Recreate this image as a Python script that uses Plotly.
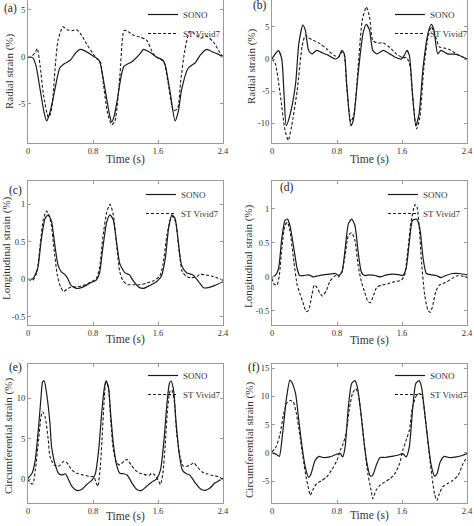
import plotly.graph_objects as go

# ---------------- data (time in s, strain in %) ----------------
a_sono_t = [0,0.06,0.1,0.15,0.2,0.23,0.26,0.3,0.33,0.39,0.45,0.52,0.58,0.64,0.7,0.76,0.82,0.87,0.89,0.95,1.0,1.03,1.06,1.1,1.18,1.28,1.38,1.42,1.5,1.58,1.66,1.69,1.75,1.81,1.85,1.89,1.97,2.06,2.12,2.2,2.28,2.34,2.4]
a_sono_v = [0,-0.1,-1.0,-3.5,-6.0,-6.8,-6.2,-4.8,-3.5,-1.2,-0.7,-0.35,0.35,0.8,0.65,0.35,0,-0.3,-0.7,-3.5,-6.0,-6.9,-6.3,-4.5,-1.0,-0.5,0.35,0.8,0.5,0,-0.35,-0.9,-3.8,-6.8,-5.8,-3.5,-1.2,-0.6,0.2,0.8,0.5,0.3,0]
a_vivid_t = [0,0.05,0.09,0.115,0.15,0.19,0.25,0.28,0.31,0.34,0.37,0.43,0.48,0.54,0.6,0.66,0.72,0.8,0.85,0.89,0.93,0.98,1.03,1.07,1.13,1.18,1.21,1.3,1.38,1.46,1.54,1.6,1.67,1.72,1.79,1.84,1.88,1.93,1.99,2.03,2.12,2.2,2.28,2.36,2.4]
a_vivid_v = [0,0.1,0.5,0.9,-1.0,-4.0,-6.4,-6.0,-3.9,-0.5,1.8,3.2,2.9,2.8,2.9,2.3,1.4,0.35,-0.2,-0.5,-3.0,-6.0,-7.2,-6.8,-2.1,2.8,2.8,2.3,2.1,1.8,0.35,-0.1,-0.45,-2.5,-5.7,-5.5,-2.5,0.7,2.7,2.6,2.0,2.2,1.6,0.5,0]

b_sono_t = [0,0.04,0.08,0.12,0.15,0.175,0.22,0.29,0.33,0.38,0.41,0.45,0.49,0.55,0.63,0.69,0.78,0.82,0.86,0.89,0.92,0.97,1.0,1.06,1.12,1.16,1.2,1.24,1.29,1.37,1.45,1.51,1.59,1.63,1.66,1.69,1.73,1.77,1.81,1.86,1.92,1.96,1.99,2.04,2.08,2.16,2.27,2.4]
b_sono_v = [0,0.8,1.3,0,-6,-10.4,-8.8,-3.9,2.4,5.3,4.5,1.35,0.8,1.35,0.9,0.6,0,0.3,1.35,0.8,-4.0,-10.4,-9.6,-2.3,4.0,5.4,4.5,1.35,0.8,1.35,0.8,0.3,0,0.6,1.35,0.6,-5.5,-10.4,-8.6,-1.25,4.0,5.4,4.7,0.8,1.35,0.8,0.7,0]
b_vivid_t = [0,0.04,0.1,0.16,0.2,0.24,0.31,0.37,0.41,0.45,0.51,0.59,0.67,0.76,0.82,0.86,0.89,0.92,0.97,1.01,1.06,1.11,1.16,1.2,1.24,1.29,1.37,1.45,1.53,1.61,1.66,1.70,1.73,1.78,1.82,1.87,1.92,1.96,2.0,2.06,2.12,2.18,2.27,2.4]
b_vivid_v = [0,-0.7,-5.4,-11.1,-12.7,-10.6,-4.9,1.9,3.7,3.3,2.9,2.4,1.6,0.6,0.3,1.1,0.6,-4.4,-9.8,-8.5,-1.25,6.0,8.1,6.6,2.9,2.5,2.5,1.8,0.8,0.2,0.2,-1.2,-5.9,-10.9,-9.1,-1.25,3.4,5.0,4.0,1.9,1.7,1.5,0.8,0]

c_sono_t = [0,0.06,0.12,0.16,0.21,0.25,0.29,0.33,0.37,0.41,0.45,0.49,0.53,0.6,0.68,0.76,0.84,0.88,0.92,0.97,1.01,1.05,1.09,1.13,1.19,1.25,1.29,1.36,1.42,1.5,1.58,1.64,1.69,1.73,1.77,1.81,1.85,1.89,1.95,2.03,2.1,2.16,2.22,2.3,2.4]
c_sono_v = [0,0.01,0.15,0.5,0.81,0.86,0.77,0.46,0.19,0.1,0.07,0.01,-0.08,-0.12,-0.1,-0.05,-0.01,0.08,0.41,0.77,0.86,0.79,0.5,0.21,0.09,0.06,-0.01,-0.1,-0.12,-0.08,-0.03,0.04,0.28,0.68,0.86,0.81,0.5,0.19,0.09,0.06,-0.03,-0.11,-0.11,-0.08,-0.03]
c_vivid_t = [0,0.06,0.11,0.15,0.19,0.23,0.28,0.32,0.36,0.40,0.44,0.48,0.53,0.6,0.68,0.76,0.84,0.88,0.92,0.97,1.01,1.05,1.09,1.13,1.17,1.23,1.29,1.38,1.46,1.54,1.62,1.66,1.71,1.75,1.78,1.82,1.86,1.9,1.95,2.01,2.08,2.12,2.18,2.28,2.4]
c_vivid_v = [0,-0.01,0.1,0.46,0.81,0.91,0.77,0.41,0.06,-0.1,-0.16,-0.13,-0.1,-0.1,-0.08,-0.04,0.01,0.15,0.55,0.9,1.0,0.86,0.46,0.1,-0.02,-0.07,-0.07,-0.07,-0.05,-0.02,0.04,0.19,0.59,0.79,0.84,0.75,0.37,0.1,0.04,0.02,0.04,0.07,0.06,0.04,-0.01]

d_sono_t = [0,0.04,0.08,0.12,0.16,0.19,0.22,0.27,0.31,0.34,0.39,0.45,0.51,0.55,0.63,0.71,0.78,0.82,0.86,0.9,0.94,0.98,1.02,1.06,1.1,1.14,1.2,1.27,1.33,1.41,1.49,1.57,1.61,1.65,1.69,1.73,1.78,1.82,1.86,1.9,1.96,2.02,2.08,2.14,2.22,2.31,2.4]
d_sono_v = [0,0.02,0.12,0.56,0.83,0.85,0.76,0.41,0.12,0.02,0.02,0.03,0,0.01,0.03,0.04,0.05,0.02,0.07,0.41,0.78,0.85,0.76,0.37,0.07,0.02,0.03,0.02,0,0.03,0.04,0.03,0.02,0.12,0.51,0.83,0.85,0.71,0.27,0.05,0.03,0.02,-0.01,0.02,0.05,0.05,0.03]
d_vivid_t = [0,0.02,0.06,0.09,0.12,0.16,0.19,0.22,0.27,0.31,0.35,0.39,0.42,0.45,0.49,0.52,0.55,0.59,0.62,0.67,0.71,0.78,0.82,0.86,0.9,0.94,0.98,1.02,1.06,1.1,1.14,1.18,1.21,1.25,1.29,1.35,1.43,1.51,1.59,1.63,1.67,1.71,1.76,1.78,1.81,1.84,1.88,1.92,1.95,1.98,2.02,2.06,2.14,2.22,2.29,2.35,2.4]
d_vivid_v = [-0.02,-0.1,-0.12,0.02,0.41,0.76,0.8,0.68,0.22,-0.12,-0.27,-0.41,-0.51,-0.49,-0.27,-0.12,-0.15,-0.24,-0.28,-0.2,-0.07,0.02,0,0.07,0.32,0.61,0.65,0.54,0.17,-0.07,-0.22,-0.36,-0.38,-0.27,-0.15,-0.12,-0.1,-0.07,-0.05,0.02,0.37,0.8,1.06,1.05,0.76,0.22,-0.27,-0.49,-0.52,-0.41,-0.2,-0.12,-0.08,-0.02,0.02,0.01,-0.01]

e_sono_t = [0,0.05,0.09,0.13,0.16,0.18,0.2,0.23,0.27,0.29,0.34,0.38,0.42,0.46,0.5,0.54,0.6,0.66,0.72,0.79,0.83,0.87,0.91,0.94,0.96,0.99,1.02,1.05,1.09,1.13,1.18,1.22,1.28,1.34,1.4,1.46,1.52,1.58,1.63,1.67,1.71,1.74,1.76,1.79,1.82,1.86,1.9,1.95,1.99,2.06,2.12,2.18,2.24,2.3,2.4]
e_sono_v = [0.1,0.7,2.4,6.4,10.1,12.0,12.1,10.5,6.9,4.0,1.6,0.65,0.5,0.65,-0.1,-0.9,-1.4,-1.3,-0.7,-0.1,0.7,3.6,8.5,11.3,12.1,11.3,7.7,4.4,1.75,0.7,0.65,0.5,-0.5,-1.3,-1.4,-0.9,-0.4,0,1.1,4.4,9.3,11.8,12.1,11.1,7.3,3.2,1.1,0.65,0.5,-0.5,-1.2,-1.4,-1.1,-0.5,0.1]
e_vivid_t = [0,0.03,0.06,0.09,0.13,0.16,0.18,0.21,0.25,0.27,0.32,0.36,0.40,0.44,0.48,0.54,0.6,0.68,0.77,0.81,0.84,0.86,0.89,0.91,0.94,0.96,0.99,1.02,1.05,1.09,1.13,1.18,1.22,1.27,1.32,1.38,1.46,1.5,1.52,1.56,1.61,1.63,1.66,1.69,1.72,1.75,1.77,1.8,1.83,1.87,1.91,1.95,2.0,2.04,2.08,2.14,2.2,2.28,2.34,2.4]
e_vivid_v = [0,-0.5,-0.6,1.1,4.8,7.7,8.3,7.7,4.8,2.8,1.75,1.55,1.75,2.2,2.0,1.1,0.7,0.5,0.3,0.3,-0.5,-0.9,1.55,4.8,10.1,12.2,11.3,6.9,3.6,2.0,1.75,2.2,2.4,1.75,1.1,0.7,0.5,0.5,0.7,0.5,-0.3,-0.7,0.7,4.4,8.9,10.9,11.0,9.7,5.6,2.8,1.6,1.55,1.75,2.0,1.55,0.9,0.65,0.4,0.3,0]

f_sono_t = [0,0.05,0.09,0.13,0.18,0.22,0.24,0.29,0.33,0.37,0.41,0.45,0.48,0.53,0.58,0.63,0.71,0.8,0.84,0.87,0.9,0.94,0.98,1.02,1.05,1.09,1.13,1.17,1.21,1.24,1.29,1.33,1.39,1.47,1.55,1.61,1.65,1.69,1.73,1.77,1.81,1.84,1.88,1.92,1.96,2.0,2.03,2.07,2.12,2.18,2.27,2.35,2.4]
f_sono_v = [0,-0.2,-0.6,3.4,9.9,12.9,12.6,10.5,5.8,1.1,-2.5,-4.3,-3.7,-1.3,-0.6,-0.8,-0.7,-0.2,-0.1,-0.7,1.1,8.2,12.3,12.8,11.7,7.6,2.2,-1.9,-4.1,-3.9,-1.9,-0.8,-0.8,-0.6,-0.4,-0.1,-0.7,1.1,7.6,12.3,12.8,11.7,7.0,2.0,-2.2,-4.1,-3.7,-1.6,-0.6,-0.8,-0.7,-0.4,-0.1]
f_vivid_t = [0,0.05,0.1,0.14,0.18,0.22,0.26,0.3,0.34,0.38,0.42,0.45,0.47,0.5,0.55,0.61,0.67,0.73,0.8,0.84,0.87,0.91,0.95,0.99,1.03,1.06,1.1,1.14,1.18,1.22,1.24,1.28,1.33,1.39,1.45,1.51,1.57,1.61,1.65,1.69,1.73,1.78,1.82,1.85,1.89,1.93,1.97,2.0,2.03,2.06,2.1,2.16,2.22,2.29,2.35,2.4]
f_vivid_v = [0.2,1.1,3.4,6.7,8.8,9.3,9.1,7.0,3.4,-0.7,-4.3,-6.3,-7.5,-6.6,-5.4,-4.9,-4.3,-3.1,-1.3,0.5,1.4,3.4,7.6,10.5,11.4,10.5,6.4,1.1,-3.7,-6.6,-8.1,-6.6,-5.7,-5.1,-4.6,-3.7,-1.9,0.5,2.2,4.0,8.2,10.2,10.5,9.9,5.8,0.5,-4.3,-7.2,-8.4,-7.2,-6.0,-5.4,-4.9,-4.0,-1.9,-0.7]

x_tick_vals = [0, 0.8, 1.6, 2.4]
x_tick_text = ["0", "0.8", "1.6", "2.4"]
x_title = "Time (s)"
y_ticks = {
    "a": ([5, 0, -5], ["5", "0", "-5"]),
    "b": ([5, 0, -5, -10], ["5", "0", "-5", "-10"]),
    "c": ([1, 0.5, 0, -0.5], ["1", "0.5", "0", "-0.5"]),
    "d": ([1, 0.5, 0, -0.5], ["1", "0.5", "0", "-0.5"]),
    "e": ([10, 5, 0], ["10", "5", "0"]),
    "f": ([15, 10, 5, 0, -5], ["15", "10", "5", "0", "-5"]),
}
y_titles = {"a": "Radial strain (%)", "b": "Radial strain (%)",
            "c": "Longitudinal strain (%)", "d": "Longitudinal strain (%)",
            "e": "Circumferential strain (%)", "f": "Circumferential strain (%)"}
series_names = ["SONO", "ST Vivid7"]

panels = {
    "a": (a_sono_t, a_sono_v, a_vivid_t, a_vivid_v),
    "b": (b_sono_t, b_sono_v, b_vivid_t, b_vivid_v),
    "c": (c_sono_t, c_sono_v, c_vivid_t, c_vivid_v),
    "d": (d_sono_t, d_sono_v, d_vivid_t, d_vivid_v),
    "e": (e_sono_t, e_sono_v, e_vivid_t, e_vivid_v),
    "f": (f_sono_t, f_sono_v, f_vivid_t, f_vivid_v),
}

# ---------------- layout geometry ----------------
W, H = 474, 526
FONT = "Liberation Serif"
xl = [28 / W, 223 / W]
xr = [272 / W, 467 / W]
r1 = [1 - 143 / H, 1.0]
r2 = [1 - 324.5 / H, 1 - 181 / H]
r3 = [1 - 503 / H, 1 - 364 / H]
geom = {
    "a": (xl, r1, [-9.15, 6.06]),
    "b": (xr, r1, [-13.1, 9.2]),
    "c": (xl, r2, [-0.6, 1.31]),
    "d": (xr, r2, [-0.7, 1.41]),
    "e": (xl, r3, [-2.96, 14.2]),
    "f": (xr, r3, [-8.85, 15.75]),
}
legend_pos = {"a": (226, 0), "b": (473, 0), "c": (224, 180), "d": (466, 180),
              "e": (226, 361), "f": (473, 361)}
label_pos = {"a": (10, 8), "b": (260, 6), "c": (15, 190), "d": (287, 188),
             "e": (15, 367), "f": (254, 367)}
ytitle_pos = {"a": (9, 72), "b": (251, 67), "c": (6, 248), "d": (249, 256),
              "e": (8, 436), "f": (249, 440)}
xtitle_pos = {"a": (125, 160), "b": (369, 160), "c": (125, 339), "d": (369, 340),
              "e": (125, 516), "f": (369, 515)}

fig = go.Figure()
layout = dict(width=W, height=H, margin=dict(l=0, r=0, t=0, b=0, autoexpand=False),
              paper_bgcolor="white", plot_bgcolor="white",
              font=dict(family=FONT, color="#333"), annotations=[])

axis_col = "#9a9a9a"
txt_col = "#333"
for i, key in enumerate(["a", "b", "c", "d", "e", "f"]):
    n = i + 1
    xs = "" if n == 1 else str(n)
    st, sv, vt, vv = panels[key]
    leg = "legend" if n == 1 else f"legend{n}"
    fig.add_trace(go.Scatter(x=st, y=sv, mode="lines", name=series_names[0],
                             line=dict(color="#1a1a1a", width=1.2, shape="spline", smoothing=0.6),
                             xaxis="x" + xs, yaxis="y" + xs, legend=leg))
    fig.add_trace(go.Scatter(x=vt, y=vv, mode="lines", name=series_names[1],
                             line=dict(color="#1a1a1a", width=1.1, dash="3px,2px",
                                       shape="spline", smoothing=0.6),
                             xaxis="x" + xs, yaxis="y" + xs, legend=leg))
    xd, yd, yr = geom[key]
    top_row = key in ("a", "b")
    layout["xaxis" + xs] = dict(
        domain=xd, anchor="y" + xs, range=[0, 2.4], tickvals=x_tick_vals,
        ticktext=x_tick_text, ticks="inside", ticklen=3, tickcolor=axis_col,
        showline=True, linecolor=axis_col, linewidth=1,
        mirror=False if top_row else "ticks", showgrid=False, zeroline=False,
        automargin=False,
        tickfont=dict(family=FONT, size=8.5, color=txt_col))
    yv, yt = y_ticks[key]
    layout["yaxis" + xs] = dict(
        domain=yd, anchor="x" + xs, range=yr, tickvals=yv, ticktext=yt,
        ticks="inside", ticklen=3, tickcolor=axis_col, showline=True,
        linecolor=axis_col, linewidth=1, mirror="ticks", showgrid=False,
        zeroline=False, automargin=False,
        tickfont=dict(family=FONT, size=8.5, color=txt_col))
    lx, ly = legend_pos[key]
    layout[leg] = dict(x=lx / W, y=1 - ly / H, xanchor="right", yanchor="top",
                       bgcolor="rgba(0,0,0,0)", font=dict(family=FONT, size=9, color=txt_col),
                       tracegroupgap=0, itemwidth=30)
    px, py = label_pos[key]
    layout["annotations"].append(dict(text=f"({key})", x=px / W, y=1 - py / H,
                                      xref="paper", yref="paper", showarrow=False,
                                      xanchor="center", yanchor="middle",
                                      font=dict(family=FONT, size=11.5, color="#222")))
    tx, ty = ytitle_pos[key]
    layout["annotations"].append(dict(text=y_titles[key], x=tx / W, y=1 - ty / H,
                                      xref="paper", yref="paper", showarrow=False,
                                      textangle=-90, xanchor="center", yanchor="middle",
                                      font=dict(family=FONT, size=11, color=txt_col)))
    tx, ty = xtitle_pos[key]
    layout["annotations"].append(dict(text=x_title, x=tx / W, y=1 - ty / H,
                                      xref="paper", yref="paper", showarrow=False,
                                      xanchor="center", yanchor="middle",
                                      font=dict(family=FONT, size=11.5, color=txt_col)))

fig.update_layout(**layout)
# remove the browser's default 8px page margin so the figure sits at the window origin
fig.write_html("out.html", config={"displayModeBar": False},
               post_script="document.body.style.margin='0';document.body.style.overflow='hidden';")
